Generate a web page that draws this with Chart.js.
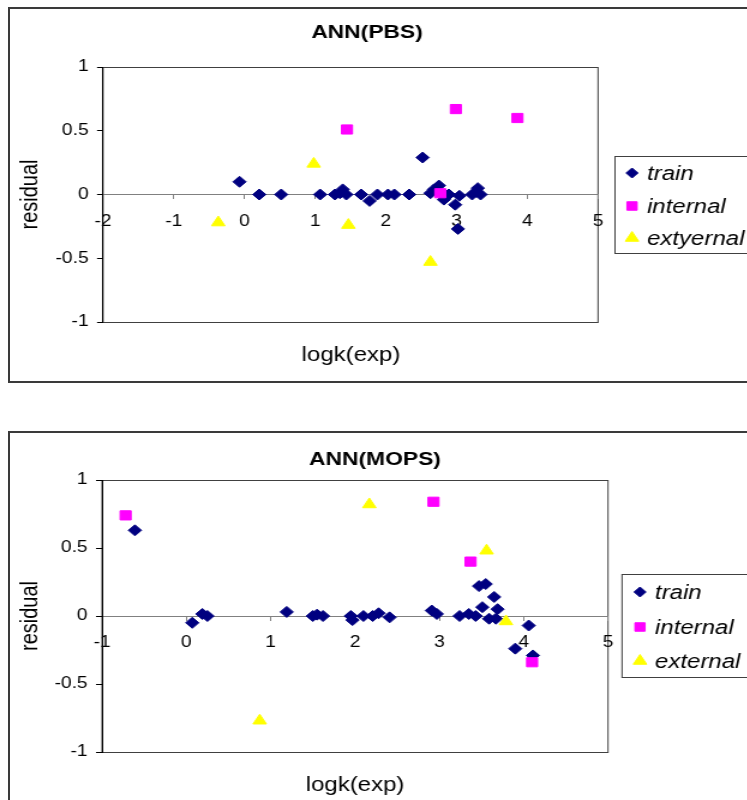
<!DOCTYPE html>
<html lang="en">
<head>
<meta charset="UTF-8">
<title>ANN residuals</title>
<script src="https://cdn.jsdelivr.net/npm/chart.js"></script>
<style>
  html, body { margin: 0; padding: 0; background: #fff; overflow: hidden; }
  body { width: 747px; height: 800px; position: relative; }
  .frame { position: absolute; left: 8px; border: 2px solid #3a3a3a; box-sizing: border-box; }
  #frame1 { top: 7px; width: 800px; height: 376px; }
  #frame2 { top: 431px; width: 800px; height: 400px; }
  canvas { position: absolute; left: 0; transform-origin: 0 0; transform: scaleX(1.2); }
  #pbs { top: 0; }
  #mops { top: 424px; }
</style>
</head>
<body>
<div class="frame" id="frame1"></div>
<div class="frame" id="frame2"></div>
<canvas id="pbs" width="634" height="390"></canvas>
<canvas id="mops" width="634" height="376"></canvas>

<script>
    // the source picture is a bit wider than tall, so the canvas is stretched sideways
    const STRETCH = 1.2;
    const FONT = '"Liberation Sans", Arial, Helvetica, sans-serif';

    const seriesNames = ['train', 'internal', 'extyernal'];
    const seriesNames2 = ['train', 'internal', 'external'];
    const yTickValues = [-1, -0.5, 0, 0.5, 1];
    const xTicksPbs = [-2, -1, 0, 1, 2, 3, 4, 5];
    const xTicksMops = [-1, 0, 1, 2, 3, 4, 5];

    // ANN(PBS)
    const pbsTrainX = [-0.07, 0.21, 0.52, 1.07, 1.28, 1.35, 1.39, 1.44, 1.65, 1.77, 1.88, 2.03, 2.12, 2.33, 2.52,
                       2.63, 2.68, 2.75, 2.82, 2.89, 2.98, 3.02, 3.04, 3.22, 3.28, 3.30, 3.34];
    const pbsTrainY = [0.10, 0, 0, 0, 0, 0.01, 0.04, 0, 0, -0.05, 0, 0, 0, 0, 0.29,
                       0.01, 0.04, 0.07, -0.04, 0, -0.08, -0.27, -0.01, 0, 0.02, 0.05, 0];
    const pbsInternalX = [1.45, 2.77, 2.99, 3.86];
    const pbsInternalY = [0.51, 0.01, 0.67, 0.60];
    const pbsExternalX = [-0.37, 0.98, 1.47, 2.63];
    const pbsExternalY = [-0.22, 0.24, -0.24, -0.53];

    // ANN(MOPS)
    const mopsTrainX = [-0.61, 0.07, 0.19, 0.25, 1.19, 1.50, 1.55, 1.62, 1.95, 1.97, 2.10, 2.21, 2.28, 2.41,
                        2.91, 2.97, 3.24, 3.35, 3.43, 3.47, 3.55, 3.51, 3.59, 3.65, 3.69, 3.67, 3.90, 4.06, 4.11];
    const mopsTrainY = [0.63, -0.05, 0.015, 0, 0.03, 0, 0.01, 0, 0, -0.03, 0, 0, 0.02, -0.01,
                        0.04, 0.015, 0, 0.015, 0, 0.22, 0.235, 0.065, -0.02, 0.14, 0.05, -0.02, -0.24, -0.07, -0.29];
    const mopsInternalX = [-0.72, 2.93, 3.37, 4.10];
    const mopsInternalY = [0.74, 0.84, 0.40, -0.34];
    const mopsExternalX = [0.87, 2.17, 3.56, 3.79];
    const mopsExternalY = [-0.77, 0.82, 0.48, -0.04];

    function pts(xs, ys) {
        return xs.map((x, i) => ({ x: x, y: ys[i] }));
    }

    function makeDatasets(names, train, internal, external) {
        return [
            { label: names[0], data: train, pointStyle: 'rectRot', pointRadius: 5.5,
              backgroundColor: '#000080', borderColor: '#000080', borderWidth: 1, order: 3 },
            { label: names[1], data: internal, pointStyle: 'rect', pointRadius: 6.5,
              backgroundColor: '#ff00ff', borderColor: '#ff00ff', borderWidth: 1, order: 2 },
            { label: names[2], data: external, pointStyle: 'triangle', pointRadius: 6.5,
              backgroundColor: '#ffff00', borderColor: '#ffff00', borderWidth: 1, order: 1 }
        ];
    }

    // plot border, chart title, x title and the boxed legend
    const decor = {
        id: 'decor',
        beforeDraw(chart) {
            const ctx = chart.ctx;
            const a = chart.chartArea;
            ctx.save();
            ctx.strokeStyle = '#404040';
            ctx.lineWidth = 1;
            ctx.strokeRect(a.left, a.top + 0.5, a.right - a.left, a.bottom - a.top);
            ctx.restore();
        },
        afterDraw(chart, args, o) {
            const ctx = chart.ctx;
            ctx.save();
            ctx.fillStyle = '#000';
            ctx.textAlign = 'center';
            ctx.textBaseline = 'middle';
            ctx.font = 'bold 19px ' + FONT;
            ctx.fillText(o.title, o.titleX / STRETCH, o.titleY);
            ctx.font = '20px ' + FONT;
            ctx.fillText(o.xTitle, o.xTitleX / STRETCH, o.xTitleY);

            const L = o.legend;
            ctx.strokeStyle = '#404040';
            ctx.lineWidth = 1;
            ctx.strokeRect(L.left / STRETCH, L.top + 0.5, (L.right - L.left) / STRETCH, L.bottom - L.top);
            ctx.font = 'italic 20px ' + FONT;
            ctx.textAlign = 'left';
            chart.data.datasets.forEach((ds, i) => {
                const y = L.rows[i];
                ctx.fillStyle = ds.backgroundColor;
                ctx.strokeStyle = ds.borderColor;
                Chart.helpers.drawPoint(ctx, {
                    pointStyle: ds.pointStyle, radius: L.radius[i], rotation: 0, borderWidth: 1
                }, L.markerX / STRETCH, y);
                ctx.fillStyle = '#000';
                ctx.fillText(ds.label, L.textX / STRETCH, y + 1);
            });
            ctx.restore();
        }
    };

    function makeChart(id, cfg) {
        const c = document.getElementById(id);
        const W = c.width, H = c.height;
        const area = cfg.area;
        const padLeft = 9;
        return new Chart(c, {
            type: 'scatter',
            data: { datasets: cfg.datasets },
            plugins: [decor],
            options: {
                responsive: false,
                animation: false,
                devicePixelRatio: 1,
                layout: {
                    padding: {
                        left: padLeft,
                        right: W - area.right / STRETCH,
                        top: area.top,
                        bottom: H - area.bottom
                    }
                },
                scales: {
                    x: {
                        type: 'linear',
                        min: cfg.xTicks[0],
                        max: cfg.xTicks[cfg.xTicks.length - 1],
                        position: { y: 0 },
                        afterBuildTicks: (s) => { s.ticks = cfg.xTicks.map(v => ({ value: v })); },
                        grid: { drawOnChartArea: false, drawTicks: true, tickLength: 4, color: '#808080' },
                        border: { color: '#808080', width: 1 },
                        ticks: { color: '#000', font: { size: 16, family: FONT }, padding: 13,
                                 autoSkip: false, maxRotation: 0, callback: (v) => String(v) }
                    },
                    y: {
                        type: 'linear',
                        min: -1,
                        max: 1,
                        afterBuildTicks: (s) => { s.ticks = yTickValues.map(v => ({ value: v })); },
                        afterFit: (s) => { s.width = area.left / STRETCH - padLeft; },
                        grid: { drawOnChartArea: false, drawTicks: true, tickLength: 5, color: '#000' },
                        border: { color: '#000', width: 1 },
                        ticks: { color: '#000', font: { size: 16, family: FONT }, padding: 7,
                                 callback: (v) => String(v) },
                        title: { display: true, text: 'residual', color: '#000',
                                 font: { size: 20, family: FONT }, padding: { top: 4, bottom: 4 } }
                    }
                },
                plugins: {
                    legend: { display: false },
                    tooltip: { enabled: false },
                    decor: cfg.decor
                }
            }
        });
    }

    Chart.defaults.font.family = FONT;

    makeChart('pbs', {
        area: { left: 103, right: 598, top: 67, bottom: 322 },
        xTicks: xTicksPbs,
        datasets: makeDatasets(seriesNames,
            pts(pbsTrainX, pbsTrainY), pts(pbsInternalX, pbsInternalY), pts(pbsExternalX, pbsExternalY)),
        decor: {
            title: 'ANN(PBS)', titleX: 367, titleY: 33,
            xTitle: 'logk(exp)', xTitleX: 351, xTitleY: 355,
            legend: { left: 615, right: 770, top: 156, bottom: 253,
                      markerX: 632, textX: 647, rows: [173, 206, 238], radius: [5, 6, 6.5] }
        }
    });

    // canvas of the second chart starts at page y = 424
    makeChart('mops', {
        area: { left: 102, right: 608, top: 56, bottom: 328 },
        xTicks: xTicksMops,
        datasets: makeDatasets(seriesNames2,
            pts(mopsTrainX, mopsTrainY), pts(mopsInternalX, mopsInternalY), pts(mopsExternalX, mopsExternalY)),
        decor: {
            title: 'ANN(MOPS)', titleX: 375, titleY: 36,
            xTitle: 'logk(exp)', xTitleX: 355, xTitleY: 361,
            legend: { left: 622, right: 770, top: 150, bottom: 253,
                      markerX: 640, textX: 655, rows: [168, 203, 237], radius: [5, 6, 6.5] }
        }
    });
</script>
</body>
</html>
